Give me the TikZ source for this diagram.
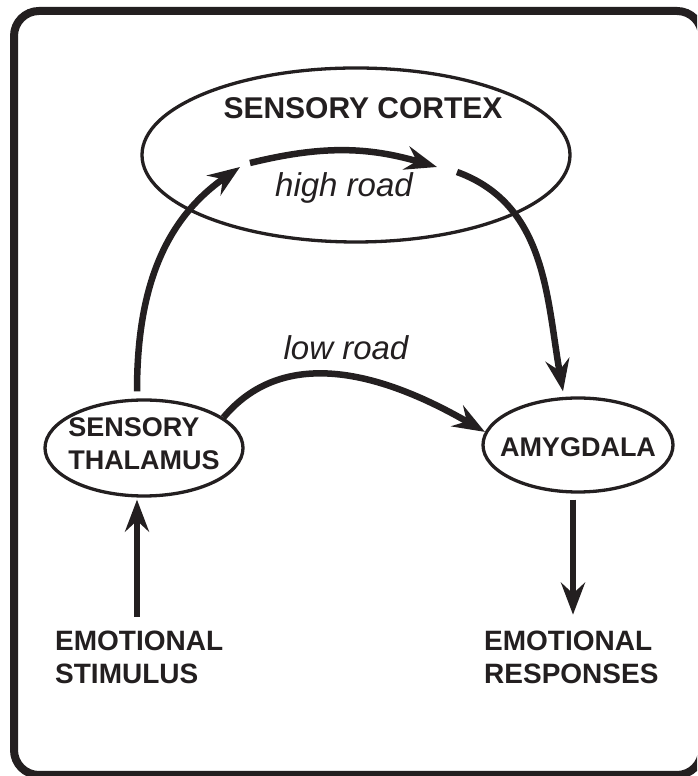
\documentclass[tikz,border=0pt]{standalone}
\usepackage{fontspec}
\setmainfont{Liberation Sans}
\usetikzlibrary{shapes.geometric,arrows.meta}
\definecolor{ink}{RGB}{35,31,32}
\def\region{\node[ellipse,draw=ink,line width=3.3pt,inner sep=0pt]}
\def\capsfont{\fontsize{27}{33}\selectfont\bfseries}
\def\bigcapsfont{\fontsize{30}{36}\selectfont\bfseries}
\def\roadfont{\fontsize{33}{40}\selectfont\itshape}

\begin{document}
\begin{tikzpicture}[x=1pt,y=1pt,
  tract/.style={draw=ink,line width=6.5pt,-{Stealth[length=32pt,width=24pt,inset=11pt]}},
  caps/.style={inner sep=0pt,text=ink,font=\capsfont,align=left},
  roadname/.style={inner sep=0pt,text=ink,font=\roadfont}]
\useasboundingbox (0,0) rectangle (697,776);
\clip (0,0) rectangle (697,776);
\draw[draw=ink,line width=8pt,rounded corners=25pt] (14,765) rectangle (702,1);
% the three regions
\region[minimum width=428pt,minimum height=174pt] (cortex) at (356,621) {};
\node[caps,font=\bigcapsfont] (cortexname) at (363,668) {SENSORY CORTEX};
\region[minimum width=198pt,minimum height=96pt,
  label={[caps,yshift=4pt,font=\fontsize{27}{33}\selectfont\bfseries]center:SENSORY\\THALAMUS}] (thalamus) at (144,328) {};
\region[minimum width=190pt,minimum height=94pt,
  label={[caps,yshift=-2pt]center:AMYGDALA}] (amygdala) at (578,331) {};
% input and output
\node[caps,anchor=west,font=\fontsize{28}{33}\selectfont\bfseries] (stimulus) at (55,119) {EMOTIONAL\\STIMULUS};
\node[caps,anchor=west,font=\fontsize{28}{33}\selectfont\bfseries] (responses) at (484,119) {EMOTIONAL\\RESPONSES};
% high road
\coordinate (hrin) at (240,609);
\coordinate (hra) at (250,613);
\coordinate (hrb) at (437,609);
\coordinate (hrout) at (457,604);
\draw[tract,out=90,in=215] ([xshift=-7pt,yshift=7pt]thalamus.north) to (hrin);
\draw[tract,bend left=15] (hra) to (hrb);
\draw[tract,out=-20,in=100] (hrout) to ([xshift=-15pt,yshift=5pt]amygdala.north);
\node[roadname] (highroad) at (344,588) {high road};
% low road
\draw[tract,out=50,in=150] (thalamus.21) to (amygdala.172);
\node[roadname] (lowroad) at (346,428) {low road};
% in and out
\draw[tract] ([xshift=-7pt,yshift=-119pt]thalamus.south) -- ([xshift=-7pt,yshift=-2pt]thalamus.south);
\draw[tract] ([xshift=-5pt,yshift=-6pt]amygdala.south) -- ([xshift=-5pt,yshift=-121pt]amygdala.south);
\end{tikzpicture}
\end{document}
